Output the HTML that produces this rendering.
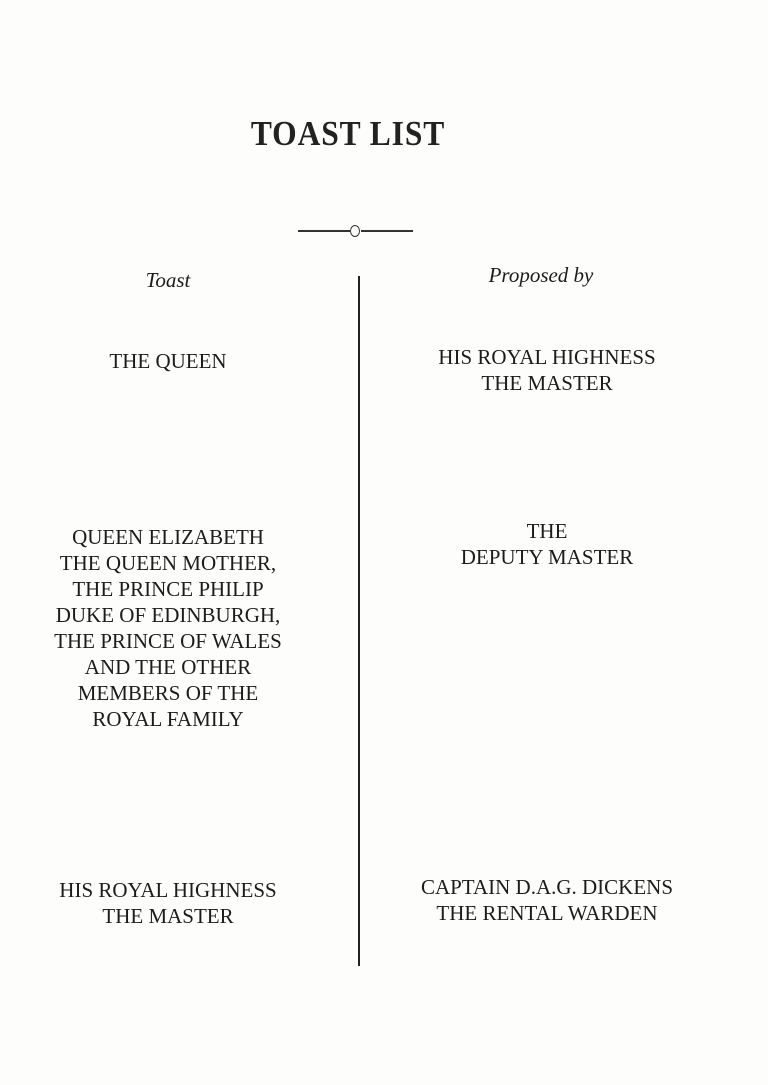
<!DOCTYPE html>
<html><head><meta charset="utf-8"><style>
html,body{margin:0;padding:0;background:#fdfdfb;}
body{width:768px;height:1085px;position:relative;overflow:hidden;font-family:"Liberation Serif",serif;color:#1c1c1c;}
.t{position:absolute;text-align:center;font-size:21px;line-height:26px;white-space:nowrap;}
.l{left:18px;width:300px;}
.r{left:397px;width:300px;}
h1{position:absolute;left:198px;width:300px;top:112px;margin:0;text-align:center;font-size:35px;font-weight:bold;letter-spacing:1px;line-height:44px;color:#222;transform:scaleX(0.9);}
</style></head><body>
<h1>TOAST LIST</h1>
<div style="position:absolute;left:298px;top:230px;width:52px;height:1.5px;background:#333"></div>
<div style="position:absolute;left:361px;top:230px;width:52px;height:1.5px;background:#333"></div>
<div style="position:absolute;left:350px;top:225px;width:8px;height:10px;border:1.5px solid #333;border-radius:50%"></div>
<div style="position:absolute;left:358px;top:276px;width:1.5px;height:690px;background:#222"></div>
<div class="t l" style="top:267px;font-style:italic">Toast</div>
<div class="t r" style="top:262px;font-style:italic;left:391px">Proposed by</div>
<div class="t l" style="top:348px">THE QUEEN</div>
<div class="t r" style="top:344px">HIS ROYAL HIGHNESS<br>THE MASTER</div>
<div class="t l" style="top:524px">QUEEN ELIZABETH<br>THE QUEEN MOTHER,<br>THE PRINCE PHILIP<br>DUKE OF EDINBURGH,<br>THE PRINCE OF WALES<br>AND THE OTHER<br>MEMBERS OF THE<br>ROYAL FAMILY</div>
<div class="t r" style="top:518px">THE<br>DEPUTY MASTER</div>
<div class="t l" style="top:877px">HIS ROYAL HIGHNESS<br>THE MASTER</div>
<div class="t r" style="top:874px">CAPTAIN D.A.G. DICKENS<br>THE RENTAL WARDEN</div>
</body></html>
